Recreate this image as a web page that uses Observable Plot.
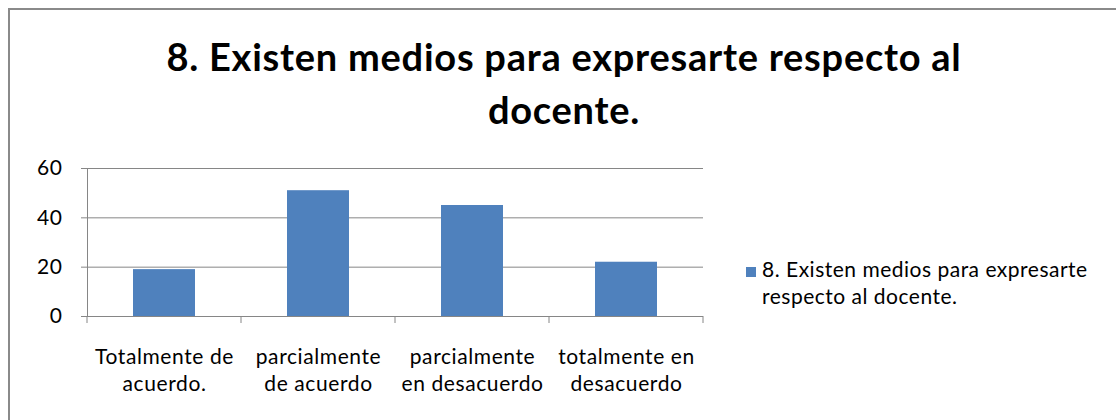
<!DOCTYPE html>
<html><head><meta charset="utf-8">
<script src="https://cdn.jsdelivr.net/npm/d3@7"></script>
<script src="https://cdn.jsdelivr.net/npm/@observablehq/plot@0.6"></script>
<style>
html,body{margin:0;padding:0;background:#fff;overflow:hidden}
#wrap{position:relative;width:1116px;height:420px;overflow:hidden;font-family:Lato,sans-serif;color:#000}
#border{position:absolute;left:8px;top:8px;width:1200px;height:500px;border-left:2px solid #8a8a8a;border-top:2px solid #8a8a8a}
#chart{position:absolute;left:0;top:0}
#title{position:absolute;left:0;width:1128px;top:30px;text-align:center;font-weight:bold;font-size:38px;letter-spacing:0.75px;line-height:52.6px;white-space:nowrap}
#legend{position:absolute;left:746px;top:255px;font-size:21px;letter-spacing:0.5px;line-height:27px}
#legend .sw{position:absolute;left:0;top:12px;width:10px;height:10px}
#legend .tx{position:absolute;left:16px;top:0;white-space:nowrap}
</style>
</head><body>
<div id="wrap">
  <div id="border"></div>
  <div id="chart"></div>
  <div id="title"></div>
  <div id="legend"></div>
</div>
<script>
const categories = ["Totalmente de\nacuerdo.", "parcialmente\nde acuerdo", "parcialmente\nen desacuerdo", "totalmente en\ndesacuerdo"];
const values = [19, 51, 45, 22];
const yTicks = [0, 20, 40, 60];
const titleLines = ["8. Existen medios para expresarte respecto al", "docente."];
const legendLines = ["8. Existen medios para expresarte", "respecto al docente."];
const barColor = "#4F81BD";
const gridColor = "#868686";

const data = categories.map((c, i) => ({category: c, value: values[i]}));

const plot = Plot.plot({
  width: 1116,
  height: 420,
  marginLeft: 87,
  marginRight: 413,
  marginTop: 168,
  marginBottom: 104,
  style: {fontFamily: "Lato, sans-serif", fontSize: "21px", letterSpacing: "0.6px", color: "black", background: "transparent"},
  x: {domain: categories, paddingInner: 0.6, paddingOuter: 0.3, label: null},
  y: {domain: [0, 60], label: null},
  marks: [
    Plot.gridY(yTicks, {stroke: gridColor, strokeOpacity: 1, strokeWidth: 1}),
    Plot.barY(data, {x: "category", y: "value", fill: barColor}),
    Plot.frame({anchor: "left", stroke: gridColor}),
    Plot.ruleY([0], {stroke: gridColor}),
    Plot.axisY({ticks: yTicks, tickSize: 6, tickPadding: 19, stroke: gridColor, fill: "black", label: null}),
    Plot.axisX({tickSize: 0, tickPadding: 28, lineHeight: 1.29, fill: "black", label: null})
  ]
});
document.getElementById("chart").appendChild(plot);

// category boundary tick marks below the x axis, from the library's scales
const xs = plot.scale("x"), ys = plot.scale("y");
const y0 = ys.apply(0);
const offset = (xs.step - xs.bandwidth) / 2;
const bounds = categories.map(c => xs.apply(c) - offset).concat([xs.apply(categories[categories.length - 1]) - offset + xs.step]);
d3.select(plot).append("g")
  .selectAll("line").data(bounds).join("line")
  .attr("x1", d => d).attr("x2", d => d)
  .attr("y1", y0).attr("y2", y0 + 7)
  .attr("stroke", gridColor);

const t = document.getElementById("title");
titleLines.forEach(l => { const d = document.createElement("div"); d.textContent = l; t.appendChild(d); });

const lg = document.getElementById("legend");
const sw = document.createElement("div"); sw.className = "sw"; sw.style.background = barColor; lg.appendChild(sw);
const tx = document.createElement("div"); tx.className = "tx";
tx.innerHTML = legendLines.map(l => l.replace(/&/g, "&amp;").replace(/</g, "&lt;")).join("<br>");
lg.appendChild(tx);
</script>
</body></html>
